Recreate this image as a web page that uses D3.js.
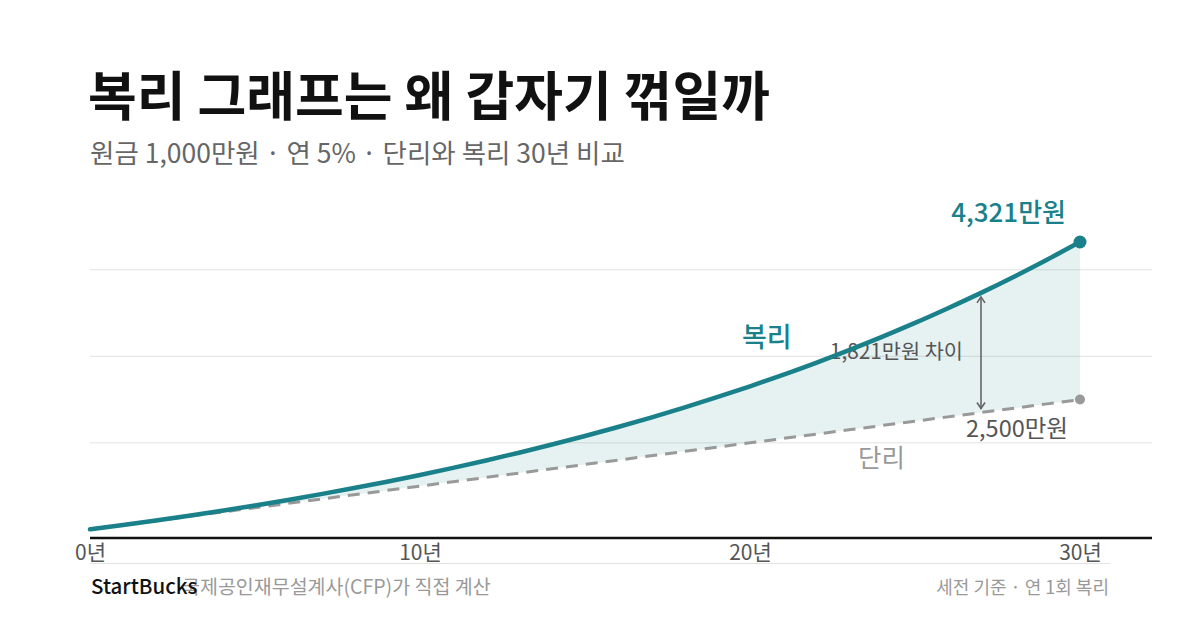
<!DOCTYPE html>
<html>
<head>
  <meta charset="utf-8">
  <script src="https://d3js.org/d3.v7.min.js"></script>
  <style>
    body { margin: 0; background: #fff; }
    svg text { font-family: "Noto Sans CJK KR", "Noto Sans", sans-serif; }
  </style>
</head>
<body>
  <svg id="chart" width="1200" height="630"></svg>
  <script>
    // years 0..30, values in 만원
    const years = d3.range(0, 31);
    const compound = [1000, 1050, 1103, 1158, 1216, 1276, 1340, 1407, 1477, 1551,
                      1629, 1710, 1796, 1886, 1980, 2079, 2183, 2292, 2407, 2527,
                      2653, 2786, 2925, 3072, 3225, 3386, 3556, 3733, 3920, 4116, 4321];
    const simple = [1000, 1050, 1100, 1150, 1200, 1250, 1300, 1350, 1400, 1450,
                    1500, 1550, 1600, 1650, 1700, 1750, 1800, 1850, 1900, 1950,
                    2000, 2050, 2100, 2150, 2200, 2250, 2300, 2350, 2400, 2450, 2500];
    const xTicks = [0, 10, 20, 30];
    const gridValues = [2000, 3000, 4000];
    const gapYear = 27;

    const data = years.map((t, i) => ({ t: t, c: compound[i], s: simple[i] }));

    const svg = d3.select("#chart");
    const teal = "#1a818a";

    const x = d3.scaleLinear().domain([0, 30]).range([90, 1080]);
    const y = d3.scaleLinear().domain([900, 4321]).range([538, 242]);

    // title
    svg.append("text").attr("x", 88).attr("y", 116)
       .attr("font-size", 53).attr("font-weight", 700).attr("fill", "#111")
       .text("복리 그래프는 왜 갑자기 꺾일까");
    svg.append("text").attr("x", 90).attr("y", 163)
       .attr("font-size", 26.5).attr("fill", "#666")
       .text("원금 1,000만원 · 연 5% · 단리와 복리 30년 비교");

    // gridlines
    svg.append("g").selectAll("line").data(gridValues).join("line")
       .attr("x1", 90).attr("x2", 1152)
       .attr("y1", d => y(d)).attr("y2", d => y(d))
       .attr("stroke", "#e2e2e2").attr("stroke-width", 1);

    // gap area
    const area = d3.area().x(d => x(d.t)).y0(d => y(d.s)).y1(d => y(d.c));
    svg.append("path").datum(data).attr("d", area)
       .attr("fill", teal).attr("fill-opacity", 0.11);

    // gap label (under the line)
    const gd = data[gapYear];
    svg.append("text").attr("x", 963).attr("y", 359)
       .attr("text-anchor", "end").attr("font-size", 20.8).attr("fill", "#555")
       .text("1,821만원 차이");

    // simple line
    svg.append("path").datum(data)
       .attr("d", d3.line().x(d => x(d.t)).y(d => y(d.s)))
       .attr("fill", "none").attr("stroke", "#999").attr("stroke-width", 3)
       .attr("stroke-dasharray", "12,8");

    // compound line
    svg.append("path").datum(data)
       .attr("d", d3.line().curve(d3.curveMonotoneX).x(d => x(d.t)).y(d => y(d.c)))
       .attr("fill", "none").attr("stroke", teal).attr("stroke-width", 4.5)
       .attr("stroke-linecap", "round");

    // gap arrow
    const ax = x(gapYear), ay1 = y(gd.c) + 4, ay2 = y(gd.s) - 4;
    const arrow = svg.append("g").attr("stroke", "#666").attr("stroke-width", 1.6).attr("fill", "none");
    arrow.append("line").attr("x1", ax).attr("x2", ax).attr("y1", ay1).attr("y2", ay2);
    arrow.append("path").attr("d", `M${ax-4},${ay1+6}L${ax},${ay1}L${ax+4},${ay1+6}`);
    arrow.append("path").attr("d", `M${ax-4},${ay2-6}L${ax},${ay2}L${ax+4},${ay2-6}`);

    // end dots
    const last = data[data.length - 1];
    svg.append("circle").attr("cx", x(last.t)).attr("cy", y(last.c)).attr("r", 6.5).attr("fill", teal);
    svg.append("circle").attr("cx", x(last.t)).attr("cy", y(last.s)).attr("r", 5).attr("fill", "#999");

    // labels
    svg.append("text").attr("x", 1066).attr("y", 222).attr("text-anchor", "end")
       .attr("font-size", 26).attr("font-weight", 500).attr("fill", teal)
       .text("4,321만원");
    svg.append("text").attr("x", 1068).attr("y", 437).attr("text-anchor", "end")
       .attr("font-size", 23.5).attr("fill", "#555")
       .text("2,500만원");
    svg.append("text").attr("x", 742).attr("y", 347)
       .attr("font-size", 27).attr("font-weight", 500).attr("fill", teal)
       .text("복리");
    svg.append("text").attr("x", 858).attr("y", 467)
       .attr("font-size", 25.5).attr("fill", "#999")
       .text("단리");

    // x axis
    const xAxis = d3.axisBottom(x).tickValues(xTicks).tickSize(0).tickFormat(d => d + "년");
    const xg = svg.append("g").attr("transform", "translate(0,538)").call(xAxis);
    xg.select(".domain").remove();
    xg.selectAll("text").attr("font-size", 21).attr("fill", "#555").attr("dy", null).attr("y", 22);
    svg.append("line").attr("x1", 90).attr("x2", 1152).attr("y1", 538).attr("y2", 538)
       .attr("stroke", "#111").attr("stroke-width", 2.5);

    // footer
    svg.append("line").attr("x1", 90).attr("x2", 1110).attr("y1", 563.5).attr("y2", 563.5)
       .attr("stroke", "#e2e2e2").attr("stroke-width", 1);
    svg.append("text").attr("x", 182).attr("y", 594)
       .attr("font-size", 19.5).attr("fill", "#999")
       .text("국제공인재무설계사(CFP)가 직접 계산");
    svg.append("text").attr("x", 91).attr("y", 594)
       .attr("font-size", 20.5).attr("font-weight", 500).attr("fill", "#111")
       .text("StartBucks");
    svg.append("text").attr("x", 1109).attr("y", 594).attr("text-anchor", "end")
       .attr("font-size", 18).attr("fill", "#999")
       .text("세전 기준 · 연 1회 복리");
  </script>
</body>
</html>
